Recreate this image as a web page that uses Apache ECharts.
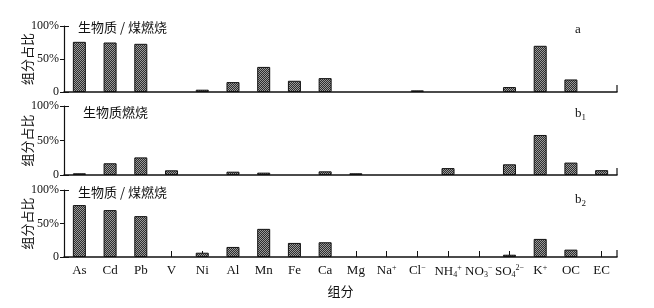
<!DOCTYPE html>
<html><head><meta charset="utf-8">
<script src="https://cdn.jsdelivr.net/npm/echarts@6/dist/echarts.min.js"></script>
<style>html,body{margin:0;padding:0;background:#fff}#c{width:654px;height:308px}</style>
</head><body><div id="c"></div>
<script>
const categories = ['As','Cd','Pb','V','Ni','Al','Mn','Fe','Ca','Mg','Na+','Cl-','NH4+','NO3-','SO42-','K+','OC','EC'];
const valuesA  = [76, 75, 73, 0, 3.5, 15, 38, 17, 21, 0, 0, 2.5, 0, 0, 7.5, 70, 19, 0];
const valuesB1 = [2.5, 17, 25.5, 6.8, 0, 4.8, 3.4, 0, 5.3, 2.5, 0, 0, 10, 0, 15.5, 58, 18, 7];
const valuesB2 = [77.5, 70, 61, 0, 6.4, 15, 42, 21, 22, 0, 0, 0, 0, 0, 3.4, 27, 11, 0];
const yTickLabels = {0:'0', 50:'50%', 100:'100%'};
const panelTitles = ['生物质 / 煤燃烧', '生物质燃烧', '生物质 / 煤燃烧'];
const panelTags = ['{t|a}', '{t|b}{s|1}', '{t|b}{s|2}'];

const labelRich = {
  n:{fontFamily:'Liberation Serif',fontSize:13,color:'#111'},
  sp:{fontFamily:'Liberation Serif',fontSize:8,color:'#111',verticalAlign:'top',padding:[0,0,6,0]},
  sb:{fontFamily:'Liberation Serif',fontSize:8,color:'#111',verticalAlign:'bottom',padding:[7,0,0,0]}
};
function fmtCat(v){
  switch(v){
    case 'Na+': return '{n|Na}{sp|+}';
    case 'Cl-': return '{n|Cl}{sp|−}';
    case 'NH4+': return '{n|NH}{sb|4}{sp|+}';
    case 'NO3-': return '{n|NO}{sb|3}{sp|−}';
    case 'SO42-': return '{n|SO}{sb|4}{sp|2−}';
    case 'K+': return '{n|K}{sp|+}';
    default: return '{n|'+v+'}';
  }
}

// checker pattern fill
const pc = document.createElement('canvas'); pc.width = 2; pc.height = 2;
const px = pc.getContext('2d');
px.fillStyle = '#2e2e2e'; px.fillRect(0,0,2,2);
px.fillStyle = '#9a9a9a'; px.fillRect(0,0,1,1); px.fillRect(1,1,1,1);

const grids = [{top:26,height:66},{top:106,height:69},{top:190,height:67}];
const titlePos = [{left:78,top:21},{left:83,top:106},{left:78,top:186}];
const L = 64, R = 37;
const series = [valuesA, valuesB1, valuesB2];
const option = {
  animation:false,
  backgroundColor:'#fff',
  grid: grids.map(g=>({left:L,right:R,top:g.top,height:g.height})),
  xAxis: grids.map((g,i)=>({
    type:'category', gridIndex:i, data:categories, boundaryGap:true,
    axisLine:{show:true,lineStyle:{color:'#111',width:1.5}},
    axisTick:{show:i===2,inside:true,alignWithLabel:true,length:6,lineStyle:{color:'#111'}},
    axisLabel:{show:i===2,formatter:fmtCat,rich:labelRich,margin:7,interval:0},
    name: i===2 ? '组分' : '', nameLocation:'middle', nameGap:28, nameMoveOverlap:false,
    nameTextStyle:{fontFamily:'Noto Sans CJK SC',fontSize:13,color:'#111'}
  })),
  yAxis: [].concat(...grids.map((g,i)=>[
    {type:'value', gridIndex:i, position:'left', min:0, max:100, interval:50,
     axisLine:{show:true,lineStyle:{color:'#111',width:1.2}},
     axisTick:{show:true,length:4,lineStyle:{color:'#111'}},
     splitLine:{show:false},
     axisLabel:{formatter:v=>yTickLabels[v],fontFamily:'Liberation Serif',fontSize:12,color:'#111',margin:5},
     name:'组分占比', nameLocation:'middle', nameGap:30, nameMoveOverlap:false,
     nameTextStyle:{fontFamily:'Noto Sans CJK SC',fontSize:13,color:'#111'}},
    {type:'value', gridIndex:i, position:'left', offset:0, min:0, max:100, interval:100,
     axisLine:{show:false}, axisLabel:{show:false}, splitLine:{show:false},
     axisTick:{show:true,inside:true,length:5,lineStyle:{color:'#111'}}}
  ])),
  series: series.map((d,i)=>({
    type:'bar', xAxisIndex:i, yAxisIndex:i*2, data:d.map(v=>v===0?'-':v), barWidth:13,
    itemStyle:{color:{image:pc,repeat:'repeat'},borderColor:'#111',borderWidth:1}
  })),
  title: [].concat(
    panelTitles.map((t,i)=>({text:t,left:titlePos[i].left,top:titlePos[i].top,padding:0,
      textStyle:{fontFamily:'Noto Sans CJK SC',fontSize:13,fontWeight:'normal',color:'#111'}})),
    panelTags.map((t,i)=>({text:t,left:575,top:[23,106,192][i],padding:0,
      textStyle:{fontWeight:'normal',rich:{t:{fontFamily:'Liberation Serif',fontSize:13,fontWeight:'normal',color:'#111'},
                       s:{fontFamily:'Liberation Serif',fontSize:9,fontWeight:'normal',color:'#111',verticalAlign:'bottom',padding:[7,0,0,0]}}}}))
  ),
  graphic: grids.map(g=>({type:'line',shape:{x1:654-R,y1:g.top+g.height-7,x2:654-R,y2:g.top+g.height},
    style:{stroke:'#111',lineWidth:1.2}}))
};
const chart = echarts.init(document.getElementById('c'),null,{renderer:'canvas'});
chart.setOption(option);
</script></body></html>
